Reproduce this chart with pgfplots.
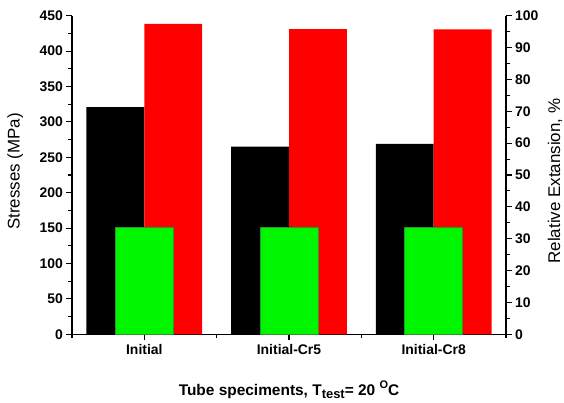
\documentclass[border=0pt]{standalone}
\usepackage{fontspec}
\setmainfont{Liberation Sans}
\usepackage{pgfplots}
\pgfplotsset{compat=1.18}
\definecolor{barred}{RGB}{255,0,0}
\definecolor{bargreen}{RGB}{0,245,0}
\definecolor{greenedge}{RGB}{40,150,40}
\begin{document}
\begin{tikzpicture}
\path[use as bounding box] (-72bp,-68.7bp) rectangle (492bp,334.3bp);
\pgfplotsset{common/.style={
  scale only axis, width=434bp, height=318.6bp,
  xmin=0.5, xmax=3.5, ymin=0,
  /pgf/number format/assume math mode=true,
  every tick label/.append style={font=\fontsize{14}{16}\selectfont\bfseries},
  label style={font=\fontsize{17}{19}\selectfont},
  tick align=outside,
  major tick length=5.5bp, minor tick length=3.5bp,
  every tick/.style={black, line width=1.1pt},
  axis line style={line width=1.1pt},
}}
\begin{axis}[common,
  ymax=450,
  axis y line*=left, axis x line*=bottom,
  ytick={0,50,...,450}, minor y tick num=1,
  xtick={1,2,3}, xticklabels={Initial,Initial-Cr5,Initial-Cr8},
  minor xtick={0.5,1.5,2.5,3.5},
  x tick label style={yshift=-1bp},
  ylabel={Stresses (MPa)},
  ylabel style={at={(axis description cs:-0.131,0.511)}, anchor=center, rotate=0},
  xlabel={Tube speciments, T\raisebox{-0.45ex}{\fontsize{13}{13}\selectfont test}= 20 \raisebox{0.75ex}{\fontsize{11}{11}\selectfont O}C},
  xlabel style={at={(axis description cs:0.5,-0.175)}, anchor=center, font=\fontsize{15.5}{18}\selectfont\bfseries},
]
\addplot[ybar, bar width=0.4, bar shift=-0.2, fill=black, draw=none]
  coordinates {(1,321) (2,265) (3,269)};
\end{axis}
\begin{axis}[common,
  ymax=100,
  axis y line*=right, axis x line=none,
  ytick={0,10,...,100}, minor y tick num=1,
  ylabel={Relative Extansion, \%},
  ylabel style={at={(axis description cs:1.113,0.481)}, anchor=center, rotate=0},
]
\addplot[ybar, bar width=0.4, bar shift=0.2, fill=barred, draw=none]
  coordinates {(1,97.4) (2,95.8) (3,95.7)};
\addplot[ybar, bar width=0.4, bar shift=0, fill=bargreen, draw=greenedge, line width=0.5pt]
  coordinates {(1,33.6) (2,33.6) (3,33.6)};
\end{axis}
\end{tikzpicture}
\end{document}
